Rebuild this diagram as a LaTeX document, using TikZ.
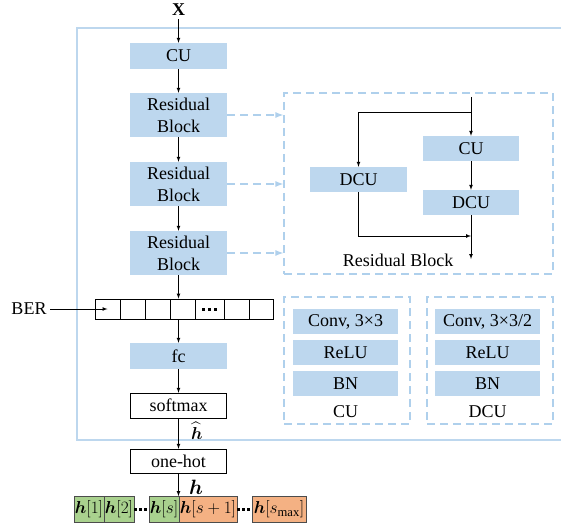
\documentclass[tikz,border=0pt]{standalone}
\usepackage{fontspec}
\setmainfont{Liberation Serif}
\usepackage{amsmath,bm}
\usetikzlibrary{calc,arrows.meta}
\tikzset{>=latex}
\definecolor{unitblue}{RGB}{189,215,238}
\definecolor{dashblue}{RGB}{175,208,236}
\definecolor{hgreen}{RGB}{169,209,142}
\definecolor{horange}{RGB}{244,177,131}
\tikzstyle{unit}=[fill=unitblue,minimum width=97,minimum height=26,inner sep=0,align=center]
\tikzstyle{plain}=[draw,minimum width=96,minimum height=25,inner sep=0]
\tikzstyle{cell}=[draw,line width=0.8,minimum height=20,inner sep=0]
\tikzstyle{hcell}=[draw=black!70,line width=0.8,minimum height=26,inner sep=0]
\tikzstyle{dashbox}=[draw=dashblue,line width=1.2,dash pattern=on 8pt off 5pt,inner sep=0]
\tikzstyle{dashlink}=[-{Latex[length=8pt,width=6pt]},dashblue,line width=1.2,dash pattern=on 8pt off 5pt]
\tikzstyle{link}=[->,line width=0.7]
\tikzstyle{dots}=[line width=2.6,dash pattern=on 2.6pt off 2.4pt]

\begin{document}
\begin{tikzpicture}[x=1pt,y=-1pt,every node/.style={font=\fontsize{18}{22}\selectfont}]
  \useasboundingbox (0,0) rectangle (561,529);

  % FRAME
  \draw[unitblue,line width=1.6] (562,28) -- (77,28) -- (77,440) -- (562,440);

  % MAIN COLUMN
  \node (x)   at (178.5,10) {\textbf{X}};
  \node[unit] (cu)  at (178.5,56) {CU};
  \node[unit,minimum height=44] (rb1) at (178.5,115) {Residual\\Block};
  \node[unit,minimum height=44] (rb2) at (178.5,184) {Residual\\Block};
  \node[unit,minimum height=44] (rb3) at (178.5,253) {Residual\\Block};
  \foreach \c/\w [count=\i] in {107.5/25,132.5/25,157.5/25,182.5/25,209.5/29,236.5/25,261/24}
    \node[cell,minimum width=\w] (c\i) at (\c,309) {};
  \draw[dots,line width=3,dash pattern=on 3pt off 3pt] ($(c5.center)+(-7.5,0)$) -- ($(c5.center)+(7.5,0)$);
  \node (ber) at (29,309) {BER};
  \node[unit] (fc) at (178.5,356) {fc};
  \node[plain] (soft) at (178.5,405.5) {softmax};
  \node[plain,minimum height=24] (onehot) at (178.5,461) {one-hot};
  \node[inner sep=0,font=\fontsize{19}{21}\selectfont] (hhat) at (197,431) {$\widehat{\bm h}$};
  \node[inner sep=0,font=\fontsize{20}{22}\selectfont] (h) at (196,487) {$\bm h$};

  \draw[link] (x) -- (cu);
  \draw[link] (cu) -- (rb1);
  \draw[link] (rb1) -- (rb2);
  \draw[link] (rb2) -- (rb3);
  \draw[link] (rb3) -- (rb3.south |- c4.north);
  \draw[link] (ber) -- (c1.center);
  \draw[link] (c4.south -| fc.north) -- (fc);
  \draw[link] (fc) -- (soft);
  \draw[link] (soft) -- (onehot);

  % OUTPUT
  \begin{scope}[every node/.style={font=\fontsize{18}{20}\selectfont}]
    \node[hcell,fill=hgreen,minimum width=30] (b1) at (89,509.5) {$\bm h[1]$};
    \node[hcell,fill=hgreen,minimum width=30] (b2) at (119,509.5) {$\bm h[2]$};
    \node[hcell,fill=hgreen,minimum width=30] (b3) at (164,509.5) {$\bm h[s]$};
    \node[hcell,fill=horange,minimum width=58] (b4) at (208,509.5) {$\bm h[s+1]$};
    \node[hcell,fill=horange,minimum width=54] (b5) at (279,509.5) {$\bm h[s_{\max}]$};
  \end{scope}
  \draw[dots] (b2.east) -- (b3.west);
  \draw[dots] (b4.east) -- (b5.west);
  \draw[link] (onehot) -- (onehot.south |- b4.north);

  % RESIDUAL BLOCK
  \node[dashbox,minimum width=269,minimum height=181] (rbbox) at (418.5,183.5) {};
  \node[unit,minimum height=25,minimum width=96] (icu) at (471,148.5) {CU};
  \node[unit,minimum height=25,minimum width=96] (idcu2) at (471,202.5) {DCU};
  \node[unit,minimum height=25] (idcu1) at (358.5,179.5) {DCU};
  \node (rblabel) at (398,260) {Residual Block};
  \coordinate (rin) at (471,97);
  \coordinate (split) at (471,112);
  \coordinate (join) at (471,236);
  \coordinate (rout) at (471,259);
  \draw[link] (rin) -- (icu);
  \draw[link] (split) -| (idcu1);
  \draw[link] (icu) -- (idcu2);
  \draw[link] (idcu2) -- (rout);
  \draw[link] (idcu1) |- (join);
  \draw[dashlink] (rb1) -- (rb1 -| rbbox.west);
  \draw[dashlink] (rb2) -- (rb2 -| rbbox.west);
  \draw[dashlink] (rb3) -- (rb3 -| rbbox.west);

  % CU / DCU
  \node[dashbox,minimum width=126,minimum height=127] (cubox) at (347,360.5) {};
  \node[dashbox,minimum width=126,minimum height=127] (dcubox) at (490,360.5) {};
  \foreach \b/\x/\k in {cu/345.5/{3\texttimes3},dcu/487.5/{3\texttimes3/2}} {
    \node[unit,minimum width=105,minimum height=25] (\b conv) at (\x,321.5) {Conv, \k};
    \node[unit,minimum width=105,minimum height=25] (\b relu) at (\x,352.5) {ReLU};
    \node[unit,minimum width=105,minimum height=25] (\b bn) at (\x,383.5) {BN};
  }
  \node (culabel) at (345.5,412) {CU};
  \node (dculabel) at (487.5,412) {DCU};
\end{tikzpicture}
\end{document}
